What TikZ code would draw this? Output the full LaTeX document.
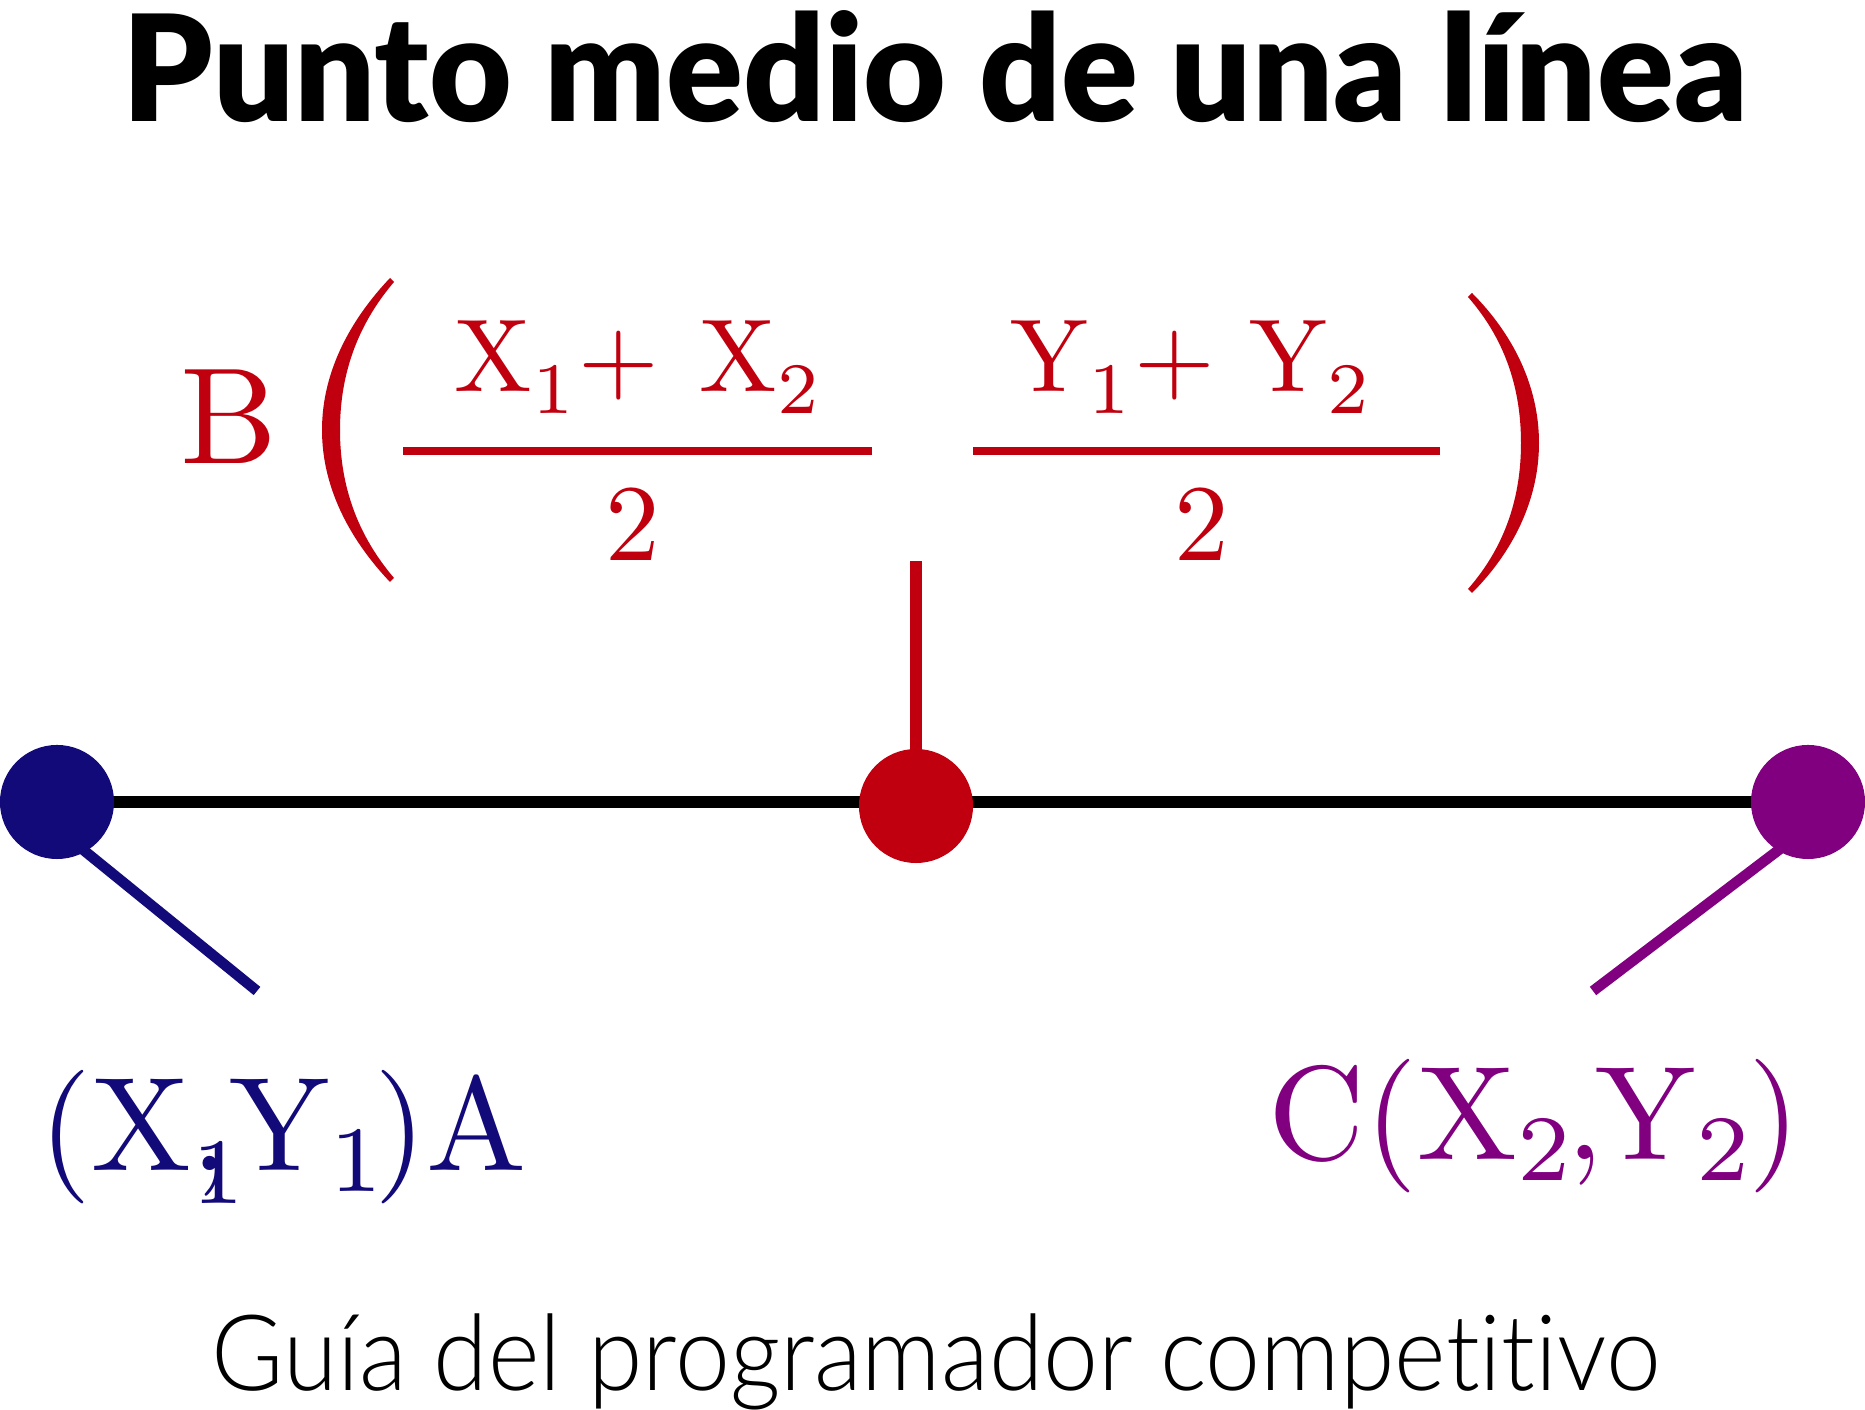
\documentclass[tikz,border=0pt]{standalone}
\usepackage{fontspec}
\newfontfamily\titlefont{Lato Black}
\newfontfamily\footfont{Lato Light}[Ligatures=NoCommon]
\usetikzlibrary{positioning}
\definecolor{midred}{RGB}{192,0,14}
\definecolor{ptblue}{RGB}{18,10,120}
\definecolor{ptpurple}{RGB}{128,0,128}
% subscript set a little lower than usual
\newcommand{\lsub}[1]{_{\lower0.6pt\hbox{$\scriptstyle#1$}}}

\begin{document}
\begin{tikzpicture}[x=0.01cm, y=-0.01cm,
  dot/.style={circle, minimum size=1.14cm, inner sep=0pt},
  spoke/.style={line width=3pt, shorten <=-0.1cm},
  bigmath/.style={scale=3.8, inner sep=0pt, anchor=base},
  fracmath/.style={scale=3.1, inner sep=0pt, anchor=base, midred}]
  \useasboundingbox (0,0) rectangle (1865,1410);

  % Title
  \node[font=\titlefont\fontsize{42}{48}\selectfont, xscale=0.966, anchor=base, inner sep=0pt] (title) at (935,122) {Punto medio de una línea};

  % The line and its three points
  \coordinate (a) at (57,802);
  \coordinate (b) at (916,806);
  \coordinate (c) at (1808,802);
  \coordinate (alab) at (257,991);
  \coordinate (clab) at (1593,991);
  \coordinate (btop) at (916,561);
  \draw[line width=3.3pt] (a) -- (c);
  \draw[line width=3.4pt, midred] (b) -- (btop);
  \node[dot, fill=ptblue] (pa) at (a) {};
  \node[dot, fill=midred] (pb) at (b) {};
  \node[dot, fill=ptpurple] (pc) at (c) {};
  \draw[spoke, ptblue] (pa.-60) -- (alab);
  \draw[spoke, ptpurple] (pc.-122) -- (clab);

  % Midpoint formula
  \node[bigmath, scale=1.026, midred] (bname) at (229,464) {$\mathrm{B}$};
  \fill[midred] (390,278) .. controls (352,318) and (322,370) .. (322,430)
    .. controls (322,490) and (352,542) .. (390,582) -- (394,578)
    .. controls (360,538) and (340,490) .. (340,430)
    .. controls (340,370) and (360,322) .. (394,282) -- cycle;
  \fill[midred] (1472,293) .. controls (1512,333) and (1539,385) .. (1539,443)
    .. controls (1539,501) and (1512,553) .. (1472,593) -- (1468,589)
    .. controls (1503,549) and (1521,501) .. (1521,443)
    .. controls (1521,385) and (1503,337) .. (1468,297) -- cycle;
  \node[fracmath, scale=0.95] (xnum) at (639,392) {$\mathrm{X}\lsub{1}{+}\mkern7mu\mathrm{X}\lsub{2}$};
  \node[fracmath] (xden) at (633,561) {$2$};
  \draw[line width=2.4pt, midred] (403,451) -- (872,451);
  \node[fracmath, scale=0.95] (ynum) at (1192,392) {$\mathrm{Y}\lsub{1}{+}\mkern6mu\mathrm{Y}\lsub{2}$};
  \node[fracmath] (yden) at (1202,561) {$2$};
  \draw[line width=2.4pt, midred] (973,451) -- (1440,451);

  % Point labels
  \node[bigmath, anchor=base west, ptblue] (aname) at (37,1171)
    {$(\mathrm{X}\rlap{,}_{1}\mkern-3mu\mathrm{Y}_{1}\mkern-2mu)\mathrm{A}$};
  \node[bigmath, anchor=base west, ptpurple] (cname) at (1266,1160)
    {$\mathrm{C}(\mathrm{X}_2\mkern-1.5mu{,}\mkern-1mu\mathrm{Y}_2\mkern-1mu)$};

  % Footer
  \node[font=\footfont\fontsize{30}{36}\selectfont, xscale=0.935, anchor=base, inner sep=0pt] (foot) at (936,1391) {Guía del programador competitivo};
\end{tikzpicture}
\end{document}
